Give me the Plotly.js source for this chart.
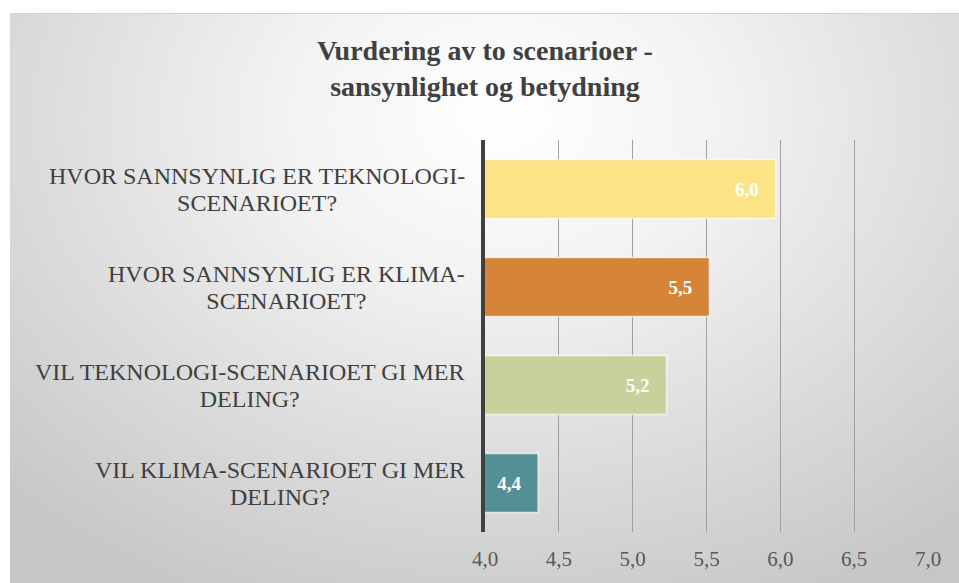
<!DOCTYPE html>
<html>
<head>
<meta charset="utf-8">
<script src="https://cdn.plot.ly/plotly-3.0.1.min.js"></script>
<style>
  html, body { margin: 0; padding: 0; background: #ffffff; }
  #bg { position: absolute; left: 10px; top: 13px; width: 949px; height: 570px;
        border-top: 1px solid #d0d0d0;
        background: radial-gradient(ellipse 75% 95% at 52% 18%, #ffffff 0%, #f3f3f3 30%, #dcdcdc 65%, #c6c6c6 100%); }
  #chart { position: absolute; left: 0; top: 0; width: 959px; height: 583px; }
  #chart text, #chart tspan { font-family: "Liberation Serif", "Times New Roman", serif !important; }
</style>
</head>
<body>
<div id="bg"></div>
<div id="chart"></div>
<script>
const categories = [
  "HVOR SANNSYNLIG ER TEKNOLOGI-<br>SCENARIOET?",
  "HVOR SANNSYNLIG ER KLIMA-<br>SCENARIOET?",
  "VIL TEKNOLOGI-SCENARIOET GI MER<br>DELING?",
  "VIL KLIMA-SCENARIOET GI MER<br>DELING?"
];
const values = [5.97, 5.52, 5.23, 4.36];
const barColors = ["#fce486", "#d68438", "#c8d19c", "#548f95"];
const xTicks = [4.0, 4.5, 5.0, 5.5, 6.0, 6.5, 7.0];
const titleText = "Vurdering av to scenarioer -<br>sansynlighet og betydning";

const serif = "Liberation Serif";

const trace = {
  type: "bar",
  orientation: "h",
  y: categories,
  x: values,
  base: 0,
  marker: { color: barColors, line: { color: "rgba(255,255,255,0.7)", width: 1.5 } },
  texttemplate: "%{x:.1f}\u00a0\u00a0\u00a0",
  textposition: "inside",
  insidetextanchor: "end",
  textangle: 0,
  constraintext: "none",
  insidetextfont: { family: serif, size: 19, color: "#ffffff", weight: "bold" },
  hoverinfo: "skip",
  showlegend: false
};

const annotations = categories.map(function (c) {
  const lines = c.split("<br>").map(function (l) {
    return '<span style="font-size:24px">' + l + '</span>';
  });
  return {
    x: 0, xref: "paper", xanchor: "right", xshift: -18,
    y: c, yref: "y", yanchor: "middle",
    text: lines.join("<br>"),
    showarrow: false, align: "center",
    font: { family: serif, size: 21, color: "#404040" }
  };
});

const layout = {
  width: 959, height: 583,
  font: { family: serif },
  paper_bgcolor: "rgba(0,0,0,0)",
  plot_bgcolor: "rgba(0,0,0,0)",
  margin: { l: 485, r: 31, t: 140, b: 51 },
  separators: ",.",
  bargap: 0.4,
  title: {
    text: titleText,
    font: { family: serif, size: 28, color: "#404040", weight: "bold" },
    xref: "container", x: 0.5057, xanchor: "center",
    yref: "container", y: 0.897, yanchor: "top"
  },
  xaxis: {
    range: [4, 7],
    tickvals: xTicks,
    tickformat: ".1f",
    showgrid: true, gridcolor: "#a0a0a0", gridwidth: 1,
    zeroline: false, showline: false, ticks: "",
    ticklabelstandoff: 12,
    tickfont: { family: serif, size: 21, color: "#595959" },
    fixedrange: true
  },
  yaxis: {
    autorange: "reversed",
    showticklabels: false,
    showgrid: false, zeroline: false,
    showline: true, linecolor: "#404040", linewidth: 4,
    ticks: "", fixedrange: true
  },
  annotations: annotations
};

Plotly.newPlot("chart", [trace], layout, { displayModeBar: false, staticPlot: true });
</script>
</body>
</html>
